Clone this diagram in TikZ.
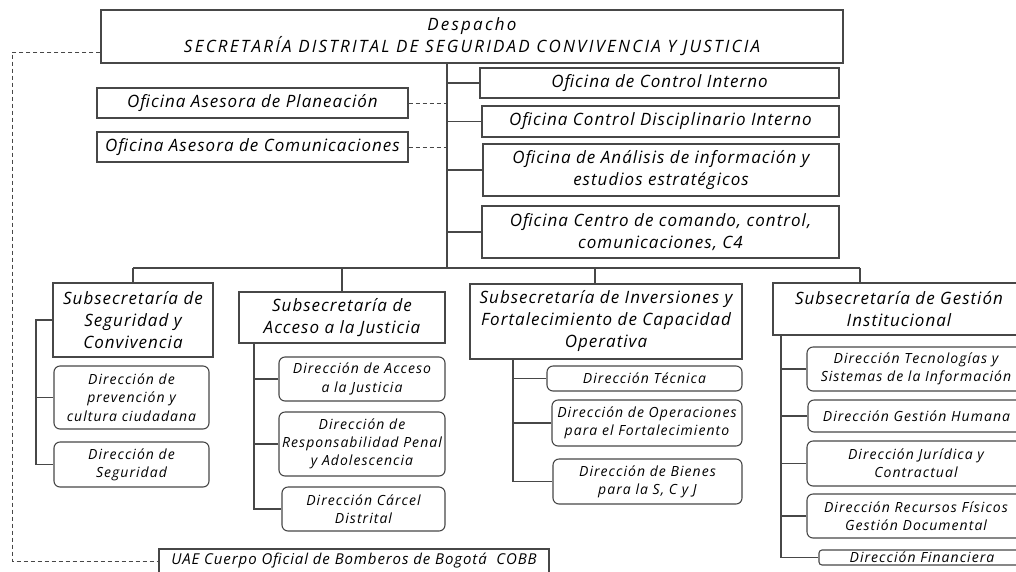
\documentclass[tikz,border=0pt]{standalone}
\usepackage{fontspec}
\setmainfont{Open Sans}
\newfontfamily\hwa{Open Sans}[LetterSpace=6]
\newfontfamily\hwt{Open Sans}[LetterSpace=13]
\newfontfamily\hwd{Open Sans}[LetterSpace=7.5]
\begin{document}
\begin{tikzpicture}[x=1pt,y=-1pt,
  ln/.style={draw=black!72, line width=1.1pt},
  box/.style={ln, rectangle, inner sep=0pt, align=center, font=\hwa\fontsize{17}{22}\selectfont\itshape},
  dbox/.style={box, rounded corners=6pt, font=\hwd\fontsize{14}{18.3}\selectfont\itshape},
  dsh/.style={draw=black!72, line width=1pt, dash pattern=on 4pt off 3pt}]
\useasboundingbox (0,0) rectangle (1016,571);
\clip (0,0) rectangle (1016,571);
% top
\node[box, font=\hwt\fontsize{17}{22}\selectfont\itshape, minimum width=742, minimum height=53] (desp) at (472,36.5) {Despacho\\SECRETARÍA DISTRITAL DE SEGURIDAD CONVIVENCIA Y JUSTICIA};
\node[box, minimum width=359, minimum height=30] (ci) at (659.5,83) {Oficina de Control Interno};
\node[box, minimum width=357, minimum height=31] (cd) at (660.5,121.5) {Oficina Control Disciplinario Interno};
\node[box, minimum width=356, minimum height=52] (an) at (661,170) {Oficina de Análisis de información y\\estudios estratégicos};
\node[box, minimum width=357, minimum height=52] (cc) at (660.5,232) {Oficina Centro de comando, control,\\comunicaciones, C4};
\node[box, minimum width=311, minimum height=30] (pl) at (252.5,103) {Oficina Asesora de Planeación};
\node[box, minimum width=311, minimum height=30] (co) at (252.5,147) {Oficina Asesora de Comunicaciones};
% subsecretarias
\node[box, minimum width=160, minimum height=74] (s1) at (133,320) {Subsecretaría de\\Seguridad y\\Convivencia};
\node[box, minimum width=206, minimum height=51] (s2) at (342,317.5) {Subsecretaría de\\Acceso a la Justicia};
\node[box, minimum width=272, minimum height=75] (s3) at (606,321.5) {Subsecretaría de Inversiones y\\Fortalecimiento de Capacidad\\Operativa};
\node[box, minimum width=252, minimum height=52] (s4) at (899,309) {Subsecretaría de Gestión\\Institucional};
% direcciones
\node[dbox, minimum width=155, minimum height=63] (pv) at (131.5,397.5) {Dirección de\\prevención y\\cultura ciudadana};
\node[dbox, minimum width=155, minimum height=45] (sg) at (131.5,464.5) {Dirección de\\Seguridad};
\node[dbox, minimum width=166, minimum height=44] (ac) at (362,379) {Dirección de Acceso\\a la Justicia};
\node[dbox, minimum width=166, minimum height=64] (rp) at (362,444) {Dirección de\\Responsabilidad Penal\\y Adolescencia};
\node[dbox, minimum width=163, minimum height=44] (cr) at (363.5,509) {Dirección Cárcel\\Distrital};
\node[dbox, minimum width=195, minimum height=25] (tc) at (644.5,378.5) {Dirección Técnica};
\node[dbox, minimum width=190, minimum height=46] (op) at (647,423) {Dirección de Operaciones\\para el Fortalecimiento};
\node[dbox, minimum width=189, minimum height=45] (bn) at (647.5,481.5) {Dirección de Bienes\\para la S, C y J};
\node[dbox, minimum width=218, minimum height=44] (tg) at (916,369) {Dirección Tecnologías y\\Sistemas de la Información};
\node[dbox, minimum width=217, minimum height=32] (gh) at (916.5,416) {Dirección Gestión Humana};
\node[dbox, minimum width=218, minimum height=45] (jc) at (916,463.5) {Dirección Jurídica y\\Contractual};
\node[dbox, minimum width=218, minimum height=44] (rf) at (916,516) {Dirección Recursos Físicos\\Gestión Documental};
\node[dbox, rounded corners=3pt, minimum width=206, minimum height=15] (fn) at (922,557.5) {Dirección Financiera};
\node[box, font=\hwa\fontsize{15}{20}\selectfont\itshape, minimum width=390, minimum height=24] (uae) at (354,561) {UAE Cuerpo Oficial de Bomberos de Bogotá~~COBB};
% trunk
\coordinate (tk) at (447,268);
\draw[ln] (desp.south -| tk) -- (tk);
\foreach \n in {ci,cd,an,cc} \draw[ln] (\n.west) -- (\n.west -| tk);
\draw[dsh] (pl.east) -- (pl.east -| tk);
\draw[dsh] (co.east) -- (co.east -| tk);
% bus
\coordinate (b3) at (595,268);
\coordinate (b4) at (860,268);
\draw[ln] (s1.north |- tk) -- (b4);
\draw[ln] (s1.north |- tk) -- (s1.north);
\draw[ln] (s2.north |- tk) -- (s2.north);
\draw[ln] (b3) -- (b3 |- s3.north);
\draw[ln] (b4) -- (b4 |- s4.north);
% spines
\coordinate (p1) at (36,0);
\draw[ln] (s1.west) -- (s1.west -| p1) -- (sg.west -| p1) -- (sg.west);
\draw[ln] (pv.west) -- (pv.west -| p1);
\coordinate (p2) at (254,0);
\draw[ln] (s2.south -| p2) -- (cr.west -| p2) -- (cr.west);
\draw[ln] (ac.west) -- (ac.west -| p2);
\draw[ln] (rp.west) -- (rp.west -| p2);
\coordinate (p3) at (513,0);
\draw[ln] (s3.south -| p3) -- (bn.west -| p3) -- (bn.west);
\draw[ln] (tc.west) -- (tc.west -| p3);
\draw[ln] (op.west) -- (op.west -| p3);
\coordinate (p4) at (781,0);
\draw[ln] (s4.south -| p4) -- (fn.west -| p4) -- (fn.west);
\foreach \n in {tg,gh,jc,rf} \draw[ln] (\n.west) -- (\n.west -| p4);
% dashed to UAE
\coordinate (dl) at (12,52);
\draw[dsh] (desp.west |- dl) -- (dl) -- (dl |- uae.west) -- (uae.west);
\end{tikzpicture}
\end{document}
